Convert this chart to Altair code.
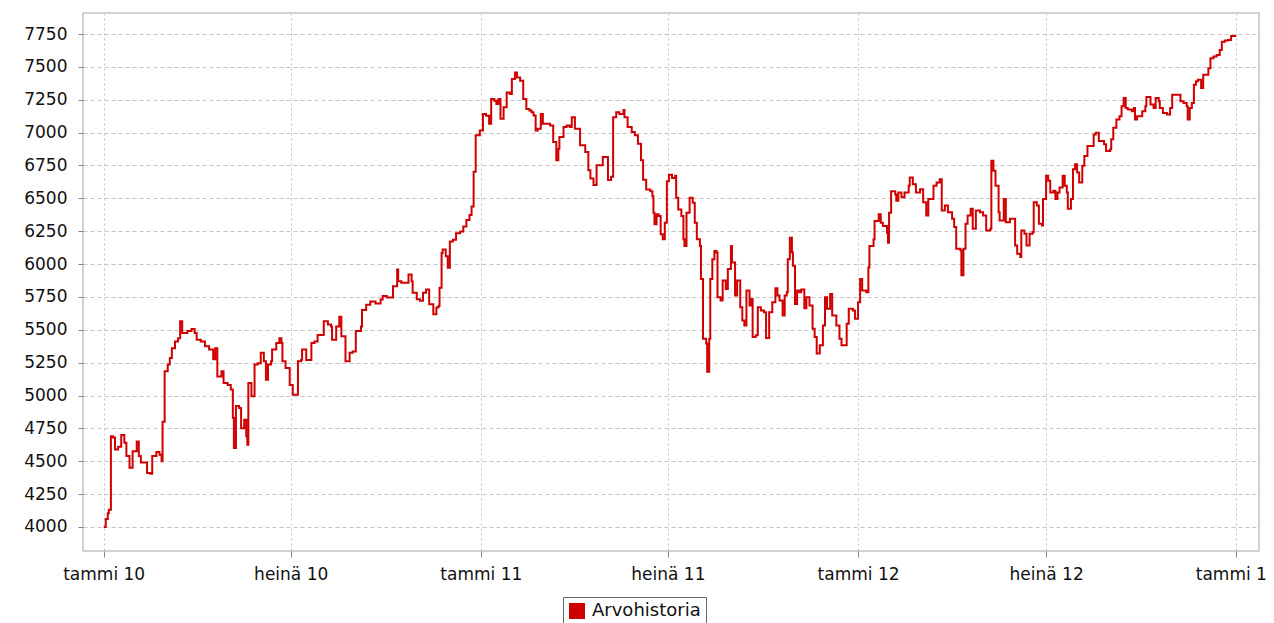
import json
import altair as alt
import pandas as pd

series_name = "Arvohistoria"
start_date = "2010-01-01"

day_offsets = [
    0, 2, 4, 5, 7, 9, 11, 14, 17, 20, 22, 25, 28, 32, 34, 36, 40, 42, 45, 47,
    51, 54, 56, 57, 59, 62, 64, 66, 69, 72, 74, 76, 78, 81, 85, 88, 90, 94, 98, 102,
    106, 108, 110, 114, 116, 120, 123, 125, 126, 128, 131, 133, 136, 138, 139, 140, 143, 146, 149, 152,
    155, 157, 159, 162, 163, 167, 170, 172, 173, 176, 180, 183, 186, 188, 191, 192, 196, 199, 201, 204,
    207, 210, 213, 217, 220, 221, 225, 228, 230, 234, 238, 241, 244, 249, 250, 254, 258, 263, 268, 270,
    274, 277, 280, 284, 285, 288, 291, 295, 298, 299, 303, 306, 309, 312, 315, 319, 322, 324, 325, 327,
    328, 331, 333, 335, 338, 341, 345, 348, 351, 354, 356, 358, 360, 364, 367, 370, 373, 375, 378, 380,
    382, 384, 387, 390, 393, 395, 398, 400, 403, 406, 409, 412, 414, 416, 418, 420, 423, 425, 428, 432,
    435, 438, 440, 441, 445, 448, 451, 453, 456, 459, 461, 466, 469, 471, 474, 477, 480, 483, 486, 488,
    491, 493, 496, 499, 503, 504, 507, 511, 514, 517, 520, 522, 525, 529, 531, 532, 533, 535, 537, 539,
    541, 543, 545, 547, 550, 553, 554, 556, 559, 561, 562, 564, 567, 570, 572, 574, 577, 578, 580, 583,
    584, 586, 587, 589, 591, 593, 594, 597, 599, 602, 604, 607, 608, 611, 613, 616, 618, 620, 622, 625,
    627, 628, 631, 633, 636, 639, 641, 644, 647, 650, 652, 654, 657, 659, 661, 662, 664, 666, 667, 669,
    671, 673, 675, 678, 680, 683, 686, 688, 690, 693, 696, 698, 700, 703, 705, 709, 712, 714, 717, 719,
    721, 725, 727, 730, 732, 734, 738, 740, 741, 745, 746, 750, 752, 754, 758, 759, 760, 762, 766, 767,
    769, 772, 775, 779, 780, 783, 786, 790, 793, 796, 798, 801, 803, 806, 809, 811, 814, 817, 821, 823,
    825, 829, 830, 832, 834, 836, 839, 841, 844, 848, 851, 854, 858, 859, 861, 863, 866, 867, 871, 873,
    877, 880, 882, 884, 887, 888, 891, 893, 896, 899, 900, 903, 905, 908, 909, 912, 914, 916, 919, 921,
    923, 925, 928, 930, 932, 933, 936, 938, 940, 942, 944, 947, 949, 952, 956, 958, 960, 963, 966, 968,
    970, 974, 975, 977, 980, 983, 985, 987, 989, 991, 995, 997, 998, 1000, 1003, 1005, 1008, 1009, 1013, 1016,
    1018, 1021, 1022, 1025, 1029, 1032, 1034, 1038, 1040, 1042, 1045, 1048, 1049, 1051, 1053, 1055, 1057, 1059, 1062, 1064,
    1066, 1069, 1071, 1074, 1077, 1080, 1082, 1085, 1088, 1091, 1096,
]

values = [
    4000, 4060, 4105, 4130, 4690, 4680, 4590, 4610, 4700, 4640, 4540, 4450, 4575, 4650, 4540, 4490, 4490, 4410, 4405, 4540,
    4570, 4550, 4500, 4800, 5185, 5235, 5285, 5360, 5410, 5435, 5565, 5475, 5475, 5490, 5505, 5475, 5425, 5410, 5375, 5350,
    5275, 5360, 5145, 5185, 5095, 5080, 5045, 4830, 4600, 4920, 4905, 4750, 4815, 4690, 4625, 5095, 4995, 5235, 5245, 5325,
    5260, 5120, 5235, 5260, 5350, 5400, 5435, 5400, 5260, 5210, 5080, 5005, 5005, 5260, 5270, 5350, 5270, 5270, 5400, 5410,
    5460, 5460, 5565, 5540, 5525, 5425, 5525, 5600, 5450, 5260, 5325, 5335, 5490, 5525, 5650, 5690, 5715, 5700, 5730, 5757,
    5745, 5745, 5832, 5958, 5870, 5857, 5857, 5920, 5870, 5782, 5732, 5720, 5782, 5807, 5694, 5618, 5669, 5681, 5820, 6084,
    6110, 6060, 5971, 6172, 6185, 6235, 6248, 6286, 6336, 6374, 6437, 6702, 6979, 7016, 7142, 7129, 7067, 7256, 7243, 7218,
    7256, 7105, 7193, 7306, 7293, 7407, 7457, 7420, 7394, 7256, 7180, 7168, 7155, 7130, 7016, 7029, 7142, 7067, 7067, 7054,
    6928, 6790, 6878, 6966, 7042, 7054, 7042, 7117, 7029, 7029, 6903, 6853, 6714, 6651, 6601, 6752, 6752, 6815, 6815, 6639,
    6664, 7117, 7155, 7142, 7172, 7117, 7042, 7004, 6979, 6916, 6790, 6642, 6567, 6554, 6516, 6390, 6302, 6378, 6365, 6226,
    6189, 6315, 6630, 6680, 6655, 6672, 6504, 6415, 6365, 6189, 6138, 6390, 6504, 6466, 6315, 6189, 6138, 5886, 5432, 5395,
    5181, 5432, 5886, 6037, 6100, 6088, 5748, 5723, 5874, 5810, 5962, 6138, 6012, 5760, 5874, 5672, 5571, 5533, 5798, 5685,
    5735, 5445, 5458, 5672, 5647, 5634, 5438, 5634, 5710, 5816, 5760, 5723, 5609, 5760, 5786, 6037, 6201, 6088, 5987, 5697,
    5798, 5786, 5806, 5664, 5748, 5685, 5508, 5445, 5319, 5382, 5533, 5748, 5660, 5773, 5609, 5533, 5432, 5382, 5382, 5546,
    5660, 5647, 5584, 5710, 5886, 5798, 5786, 5974, 6138, 6189, 6327, 6378, 6315, 6290, 6239, 6163, 6390, 6554, 6529, 6482,
    6545, 6508, 6545, 6596, 6659, 6608, 6545, 6570, 6470, 6369, 6495, 6495, 6596, 6621, 6646, 6407, 6445, 6394, 6344, 6281,
    6117, 6105, 5915, 6117, 6306, 6369, 6420, 6268, 6407, 6394, 6369, 6256, 6268, 6785, 6709, 6596, 6394, 6331, 6495, 6319,
    6344, 6344, 6142, 6079, 6054, 6256, 6231, 6142, 6231, 6243, 6470, 6445, 6306, 6293, 6495, 6671, 6634, 6545, 6558, 6495,
    6545, 6583, 6671, 6596, 6545, 6420, 6495, 6722, 6760, 6697, 6621, 6747, 6823, 6898, 6898, 6986, 6999, 6936, 6936, 6911,
    6860, 6873, 6949, 7037, 7100, 7125, 7201, 7264, 7188, 7175, 7163, 7188, 7100, 7125, 7125, 7163, 7201, 7271, 7213, 7188,
    7264, 7239, 7188, 7150, 7138, 7188, 7289, 7289, 7289, 7239, 7226, 7201, 7100, 7188, 7226, 7364, 7390, 7402, 7339, 7440,
    7440, 7490, 7566, 7579, 7591, 7629, 7692, 7700, 7705, 7735, 7735,
]

y_ticks = [4000, 4250, 4500, 4750, 5000, 5250, 5500, 5750, 6000, 6250, 6500, 6750, 7000, 7250, 7500, 7750]
y_domain = [3817, 7910]

x_tick_dates = ["2010-01-01", "2010-07-01", "2011-01-01", "2011-07-01", "2012-01-01", "2012-07-01", "2013-01-01"]
x_tick_labels = ["tammi 10", "heinä 10", "tammi 11", "heinä 11", "tammi 12", "heinä 12", "tammi 13"]
x_domain = ["2009-12-12", "2013-01-23"]

RED = "#d00000"

dates = pd.Timestamp(start_date) + pd.to_timedelta(day_offsets, unit="D")
df = pd.DataFrame({"date": dates, "value": values, "series": series_name})


def to_dt(s):
    t = pd.Timestamp(s)
    return alt.DateTime(year=t.year, month=t.month, date=t.day)


tick_codes = [pd.Timestamp(s).year * 12 + pd.Timestamp(s).month - 1 for s in x_tick_dates]
label_expr = (
    f"{json.dumps(x_tick_labels, ensure_ascii=False)}"
    f"[indexof({json.dumps(tick_codes)}, year(datum.value)*12+month(datum.value))]"
)

FONT = "DejaVu Sans"
FS = 17

line = alt.Chart(df).mark_line(
    interpolate="step-after", strokeWidth=2
).encode(
    x=alt.X(
        "date:T",
        scale=alt.Scale(domain=[to_dt(d) for d in x_domain]),
        axis=alt.Axis(
            title=None,
            values=[to_dt(d) for d in x_tick_dates],
            labelExpr=label_expr,
            grid=True,
            gridDash=[2, 3],
            gridColor="#c4c4c4",
            tickSize=6,
            labelPadding=9,
            labelFlush=False,
            labelOverlap=False,
            domain=False,
        ),
    ),
    y=alt.Y(
        "value:Q",
        scale=alt.Scale(domain=y_domain, nice=False, zero=False),
        axis=alt.Axis(
            title=None,
            values=y_ticks,
            format="d",
            grid=True,
            gridDash=[4, 3],
            gridColor="#c4c4c4",
            tickSize=5,
            labelPadding=11,
            domain=False,
        ),
    ),
    color=alt.Color(
        "series:N",
        scale=alt.Scale(range=[RED]),
        legend=alt.Legend(
            title=None,
            orient="none",
            legendX=480,
            legendY=584,
            symbolType="square",
            symbolFillColor=RED,
            symbolStrokeColor=RED,
            symbolStrokeWidth=0,
            symbolSize=256,
            labelFontSize=18,
            labelFont=FONT,
            labelColor="#111",
            padding=5,
            strokeColor="#666",
            fillColor="white",
            labelOffset=6,
        ),
    ),
)

chart = line.properties(
    width=1176,
    height=538,
    padding={"left": 75, "top": 5, "right": 7, "bottom": 72},
    autosize=alt.AutoSizeParams(type="none"),
    background="white",
).configure_view(
    stroke="#c4c4c4", strokeWidth=1.5
).configure_axis(
    labelFont=FONT,
    labelFontSize=FS,
    labelColor="#111",
    tickColor="#888",
)

chart.save("out.html", embed_options={"renderer": "svg", "actions": False})
